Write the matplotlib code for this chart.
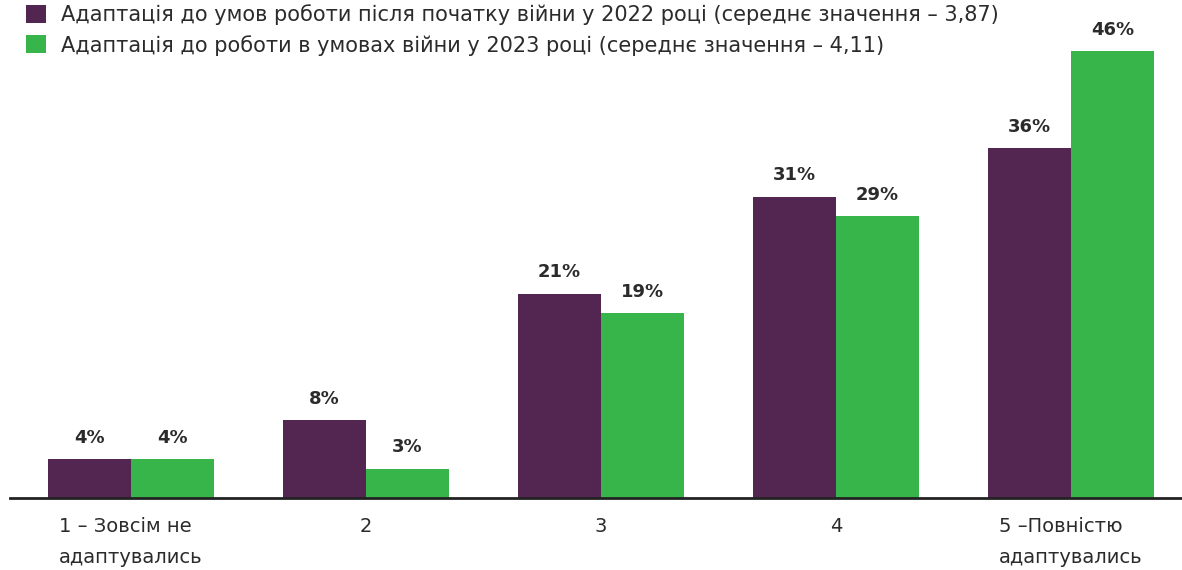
import matplotlib.pyplot as plt
import numpy as np

plt.rcParams['font.family'] = ['DejaVu Sans']

categories = ['1 – Зовсім не\nадаптувались', '2', '3', '4', '5 –Повністю\nадаптувались']
values_2022 = [4, 8, 21, 31, 36]
values_2023 = [4, 3, 19, 29, 46]
series_names = [
    'Адаптація до умов роботи після початку війни у 2022 році (середнє значення – 3,87)',
    'Адаптація до роботи в умовах війни у 2023 році (середнє значення – 4,11)',
]

purple = '#522651'
green = '#37b44a'
text_color = '#2b2b2b'

fig = plt.figure(figsize=(11.82, 5.70), dpi=100)
ax = fig.add_axes([10 / 1182, 72 / 570, 1172 / 1182, 498 / 570])

x = np.arange(len(categories))
w = 0.353
b1 = ax.bar(x - w / 2, values_2022, width=w, color=purple, label=series_names[0])
b2 = ax.bar(x + w / 2, values_2023, width=w, color=green, label=series_names[1])

for bars, vals in ((b1, values_2022), (b2, values_2023)):
    for bar, v in zip(bars, vals):
        ax.annotate(f'{v}%', (bar.get_x() + bar.get_width() / 2, v),
                    xytext=(0, 9), textcoords='offset points',
                    ha='center', va='bottom', fontsize=13, fontweight='bold',
                    color=text_color)

ax.set_xlim(-0.515, 4.472)
ax.set_ylim(0, 51.25)
ax.set_yticks([])
ax.set_xticks(x)
ax.set_xticklabels(categories, fontsize=14, color=text_color, linespacing=1.8,
                   multialignment='left')
ax.tick_params(axis='x', length=0, pad=14)
for side in ('top', 'right', 'left'):
    ax.spines[side].set_visible(False)
ax.spines['bottom'].set_color('#222222')
ax.spines['bottom'].set_linewidth(2)

fig.legend(handles=[b1, b2], loc='upper left', bbox_to_anchor=(14 / 1182, 1.0 + 8 / 570),
           frameon=False, fontsize=15, handlelength=0.96, handleheight=0.96,
           handletextpad=0.72, labelspacing=0.45, borderpad=0.1,
           labelcolor=text_color)

fig.savefig('out.png', dpi=100)
